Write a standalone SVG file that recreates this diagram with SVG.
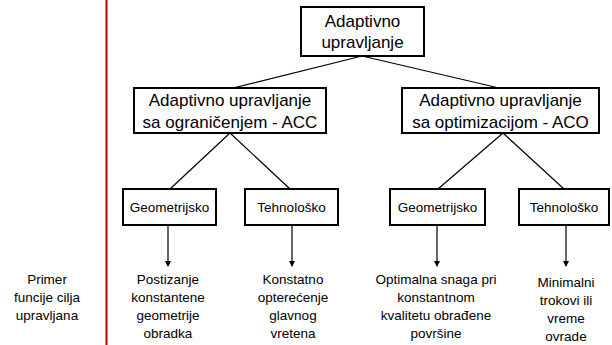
<svg xmlns="http://www.w3.org/2000/svg" width="612" height="345" viewBox="0 0 612 345">
<style>
.box{fill:#fff;stroke:#000;stroke-width:2}
.big{font-family:"Liberation Sans",Arial,sans-serif;font-size:17px;fill:#000;text-anchor:middle}
.sm{font-family:"Liberation Sans",Arial,sans-serif;font-size:13.5px;fill:#000;text-anchor:middle}
.ln{stroke:#000;stroke-width:1.2;fill:none}
</style>
<defs>
<marker id="ah" markerWidth="6" markerHeight="6" refX="5" refY="3" orient="auto" markerUnits="userSpaceOnUse">
<path d="M0,0 L6,3 L0,6 Z" fill="#000"/>
</marker>
</defs>
<rect width="612" height="345" fill="#fff"/>
<line x1="106.5" y1="0" x2="106.5" y2="345" stroke="#c00000" stroke-width="2"/>
<g id="connectors">
<line class="ln" x1="362" y1="56" x2="233" y2="88"/>
<line class="ln" x1="362" y1="56" x2="499" y2="88"/>
<line class="ln" x1="230" y1="133" x2="170" y2="189"/>
<line class="ln" x1="230" y1="133" x2="290" y2="189"/>
<line class="ln" x1="503" y1="133" x2="438" y2="189"/>
<line class="ln" x1="503" y1="133" x2="564" y2="189"/>
<line class="ln" x1="168" y1="225" x2="168" y2="266" marker-end="url(#ah)"/>
<line class="ln" x1="292" y1="225" x2="292" y2="266" marker-end="url(#ah)"/>
<line class="ln" x1="437" y1="225" x2="437" y2="266" marker-end="url(#ah)"/>
<line class="ln" x1="566" y1="225" x2="566" y2="266" marker-end="url(#ah)"/>
</g>
<g id="root">
<rect class="box" x="301" y="7" width="123" height="49"/>
<text class="big" x="362.5" y="27">Adaptivno</text>
<text class="big" x="362.5" y="48">upravljanje</text>
</g>
<g id="acc">
<rect class="box" x="134" y="88" width="192" height="45"/>
<text class="big" x="230" y="106">Adaptivno upravljanje</text>
<text class="big" x="230" y="128">sa ograničenjem - ACC</text>
</g>
<g id="aco">
<rect class="box" x="402" y="88" width="197" height="45"/>
<text class="big" x="500.5" y="106">Adaptivno upravljanje</text>
<text class="big" x="500.5" y="128">sa optimizacijom - ACO</text>
</g>
<g id="geom1">
<rect class="box" x="123" y="189" width="93" height="36"/>
<text class="sm" x="169.5" y="212">Geometrijsko</text>
</g>
<g id="tehno1">
<rect class="box" x="245" y="189" width="93" height="36"/>
<text class="sm" x="291.5" y="212">Tehnološko</text>
</g>
<g id="geom2">
<rect class="box" x="390" y="189" width="95" height="36"/>
<text class="sm" x="437.5" y="212">Geometrijsko</text>
</g>
<g id="tehno2">
<rect class="box" x="519" y="189" width="90" height="36"/>
<text class="sm" x="564" y="212">Tehnološko</text>
</g>
<g id="label-left">
<text class="sm" x="47" y="284">Primer</text>
<text class="sm" x="47" y="302">funcije cilja</text>
<text class="sm" x="47" y="320">upravljana</text>
</g>
<g id="out1">
<text class="sm" x="168" y="284">Postizanje</text>
<text class="sm" x="168" y="302">konstantene</text>
<text class="sm" x="168" y="320">geometrije</text>
<text class="sm" x="168" y="338">obradka</text>
</g>
<g id="out2">
<text class="sm" x="293" y="284">Konstatno</text>
<text class="sm" x="293" y="302">opterećenje</text>
<text class="sm" x="293" y="320">glavnog</text>
<text class="sm" x="293" y="338">vretena</text>
</g>
<g id="out3">
<text class="sm" x="436" y="284">Optimalna snaga pri</text>
<text class="sm" x="436" y="302">konstantnom</text>
<text class="sm" x="436" y="320">kvalitetu obrađene</text>
<text class="sm" x="436" y="338">površine</text>
</g>
<g id="out4">
<text class="sm" x="566" y="287">Minimalni</text>
<text class="sm" x="566" y="305">trokovi ili</text>
<text class="sm" x="566" y="323">vreme</text>
<text class="sm" x="566" y="341">ovrade</text>
</g>
</svg>
